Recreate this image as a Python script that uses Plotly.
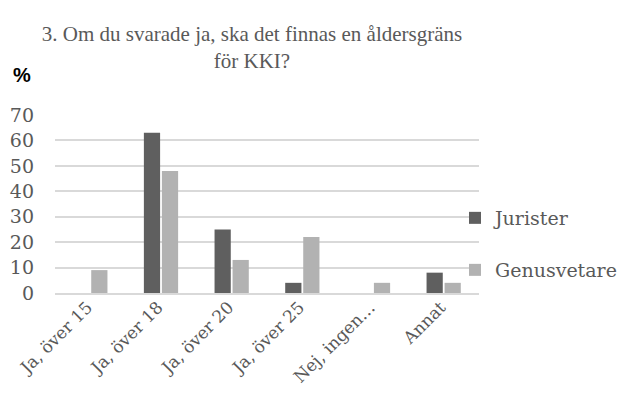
import plotly.graph_objects as go

categories = ["Ja, över 15", "Ja, över 18", "Ja, över 20", "Ja, över 25", "Nej, ingen…", "Annat"]
jurister = [0, 63, 25, 4, 0, 8]
genusvetare = [9, 48, 13, 22, 4, 4]
y_ticks = [0, 10, 20, 30, 40, 50, 60, 70]

# the page body adds an 8px margin; positions below are screen pixels
OFF = 8
W, H = 629 - OFF, 403 - OFF
ML, MT = 55 - OFF, 115 - OFF
PR, PB = 479 - OFF, 293 - OFF
MR, MB = W - PR, H - PB
PW, PH = W - ML - MR, H - MT - MB

SERIF = "DejaVu Serif"
TITLE_FONT = "Liberation Serif"


def px(x):
    return (x - OFF - ML) / PW


def py(y):
    return (H - MB - (y - OFF)) / PH


fig = go.Figure()
fig.add_trace(go.Bar(x=categories, y=jurister, name="Jurister",
                     marker=dict(color="#5f5f5f", line=dict(width=0)), legend="legend"))
fig.add_trace(go.Bar(x=categories, y=genusvetare, name="Genusvetare",
                     marker=dict(color="#b2b2b2", line=dict(width=0)), legend="legend2"))

legend_common = dict(xanchor="left", yanchor="middle", bgcolor="rgba(0,0,0,0)",
                     font=dict(family=SERIF, size=19, color="#595959"),
                     itemwidth=30)
fig.update_layout(
    width=W, height=H,
    margin=dict(l=ML, r=MR, t=MT, b=MB, autoexpand=False),
    paper_bgcolor="white", plot_bgcolor="white",
    showlegend=True,
    barmode="group", bargap=0.49, bargroupgap=0.1,
    title=dict(text="3. Om du svarade ja, ska det finnas en åldersgräns<br>för KKI?",
               x=(252 - OFF) / W, xref="container", xanchor="center",
               y=1 - (41 - OFF) / H, yref="container", yanchor="middle",
               font=dict(family=TITLE_FONT, size=21, color="#595959")),
    legend=dict(x=px(455), y=py(218), **legend_common),
    legend2=dict(x=px(455), y=py(270), **legend_common),
    xaxis=dict(tickangle=-45, showgrid=False, showline=True, linecolor="#d9d9d9", linewidth=1.5,
               tickfont=dict(family=SERIF, size=17, color="#595959"), ticks="",
               ticklabelshift=-3, ticklabelstandoff=-4, automargin=False),
    yaxis=dict(range=[0, 70], tickvals=y_ticks, showgrid=True, gridcolor="#d9d9d9", gridwidth=1.5,
               zeroline=False, showline=False, ticks="", ticklabelstandoff=20, automargin=False,
               tickfont=dict(family=SERIF, size=19, color="#595959")),
    annotations=[
        dict(text="<b>%</b>", x=px(22), y=py(75), xref="paper", yref="paper", showarrow=False,
             xanchor="center", yanchor="middle",
             font=dict(family="Liberation Sans", size=20, color="black")),
    ],
)
fig.write_html("out.html")
